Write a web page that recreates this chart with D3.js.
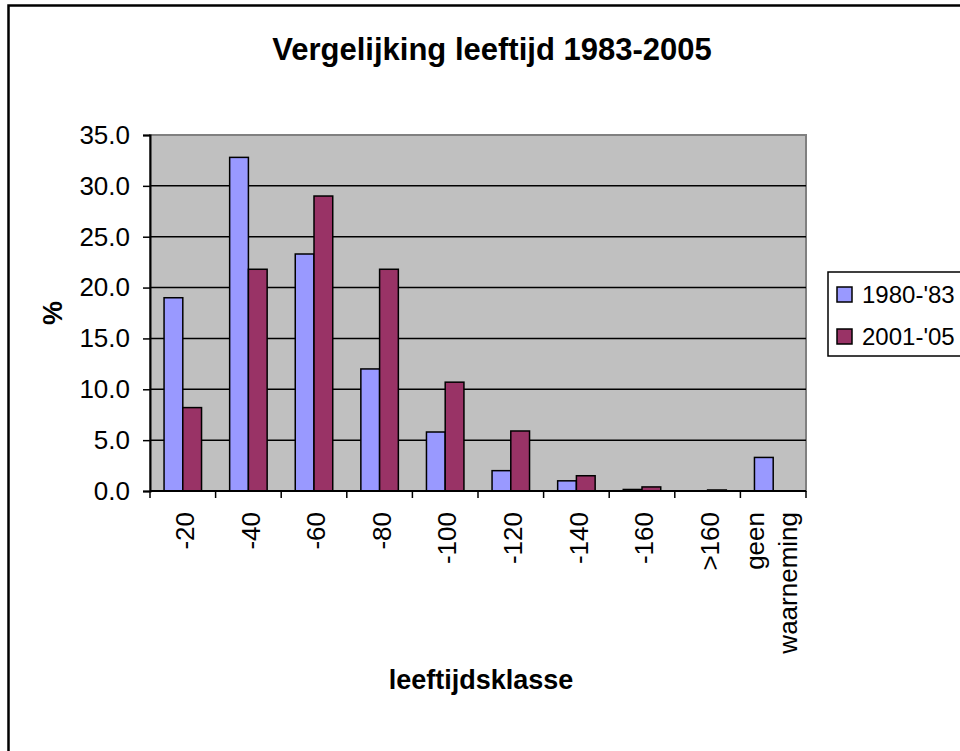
<!DOCTYPE html>
<html>
<head>
<meta charset="utf-8">
<script src="https://cdn.jsdelivr.net/npm/d3@7"></script>
<style>
  body { margin: 0; background: #fff; }
  text { font-family: Arial, "Liberation Sans", sans-serif; fill: #000; }
</style>
</head>
<body>
<div id="chart"></div>
<script>
// data
var categories = ["-20", "-40", "-60", "-80", "-100", "-120", "-140", "-160", ">160", "geen waarneming"];
var seriesNames = ["1980-'83", "2001-'05"];
var values1980 = [19.0, 32.8, 23.3, 12.0, 5.8, 2.0, 1.0, 0.15, 0.0, 3.3];
var values2001 = [8.2, 21.8, 29.0, 21.8, 10.7, 5.9, 1.5, 0.4, 0.1, 0.0];
var yTicks = [0, 5, 10, 15, 20, 25, 30, 35];
var colors = ["#9999FF", "#993366"];

function drawChart() {
    var width = 960, height = 751;
    var plot = {left: 150, top: 135, right: 806, bottom: 491};

    var svg = d3.select("#chart").append("svg")
        .attr("width", width)
        .attr("height", height);

    // chart frame (right/bottom run off the picture)
    svg.append("rect")
        .attr("x", 8.5).attr("y", 5.5)
        .attr("width", 990).attr("height", 800)
        .attr("fill", "#fff")
        .attr("stroke", "#000")
        .attr("stroke-width", 2.5);

    var x = d3.scaleBand()
        .domain(categories)
        .range([plot.left, plot.right]);

    var y = d3.scaleLinear()
        .domain([0, 35])
        .range([plot.bottom, plot.top]);

    // plot area
    svg.append("rect")
        .attr("x", plot.left).attr("y", plot.top)
        .attr("width", plot.right - plot.left)
        .attr("height", plot.bottom - plot.top)
        .attr("fill", "#C0C0C0")
        .attr("stroke", "#808080")
        .attr("stroke-width", 2);

    // gridlines
    svg.append("g")
        .selectAll("line")
        .data(yTicks.filter(function(d) { return d > 0 && d < 35; }))
        .enter().append("line")
        .attr("x1", plot.left).attr("x2", plot.right)
        .attr("y1", function(d) { return y(d); })
        .attr("y2", function(d) { return y(d); })
        .attr("stroke", "#000")
        .attr("stroke-width", 1.5);

    // bars: gap width 150% like the spreadsheet default
    var barW = x.bandwidth() / 3.5;
    var series = [values1980, values2001];
    series.forEach(function(vals, s) {
        svg.append("g")
            .selectAll("rect")
            .data(vals)
            .enter().append("rect")
            .attr("x", function(d, i) { return x(categories[i]) + barW * 0.75 + s * barW; })
            .attr("width", barW)
            .attr("y", function(d) { return y(d); })
            .attr("height", function(d) { return y(0) - y(d); })
            .attr("fill", colors[s])
            .attr("stroke", "#000")
            .attr("stroke-width", 1.5)
            .style("display", function(d) { return d > 0 ? null : "none"; });
    });

    // y axis
    var yAxis = d3.axisLeft(y)
        .tickValues(yTicks)
        .tickFormat(d3.format(".1f"))
        .tickSize(7)
        .tickPadding(13);
    var gy = svg.append("g")
        .attr("transform", "translate(" + plot.left + ",0)")
        .call(yAxis);
    gy.select(".domain").attr("stroke", "#000").attr("stroke-width", 2);
    gy.selectAll(".tick line").attr("stroke", "#000").attr("stroke-width", 1.5);
    gy.selectAll(".tick text")
        .style("font-size", "26px")
        .style("font-family", "Arial, 'Liberation Sans', sans-serif")
        .attr("fill", "#000");

    // x axis: ticks sit on the band edges
    var edges = categories.map(function(c) { return x(c); }).concat([plot.right]);
    var gx = svg.append("g");
    gx.append("line")
        .attr("x1", plot.left).attr("x2", plot.right)
        .attr("y1", plot.bottom).attr("y2", plot.bottom)
        .attr("stroke", "#000").attr("stroke-width", 2);
    gx.selectAll(".xt")
        .data(edges)
        .enter().append("line")
        .attr("class", "xt")
        .attr("x1", function(d) { return d; }).attr("x2", function(d) { return d; })
        .attr("y1", plot.bottom).attr("y2", plot.bottom + 7)
        .attr("stroke", "#000").attr("stroke-width", 1.5);

    var labels = gx.selectAll(".xl")
        .data(categories)
        .enter().append("text")
        .attr("class", "xl")
        .attr("transform", function(d) {
            return "translate(" + (x(d) + x.bandwidth() / 2 + 2) + "," + (plot.bottom + 21) + ") rotate(-90)";
        })
        .attr("text-anchor", "end")
        .style("font-size", "26px");
    labels.each(function(d) {
        var t = d3.select(this);
        var words = d === "geen waarneming" ? ["geen", "waarneming"] : [d];
        words.forEach(function(w, i) {
            t.append("tspan")
                .attr("x", 0)
                .attr("dy", i === 0 ? (words.length > 1 ? "-0.42em" : "0.35em") : "1.27em")
                .text(w);
        });
    });

    // titles
    svg.append("text")
        .attr("x", 492).attr("y", 60)
        .attr("text-anchor", "middle")
        .style("font-size", "31px")
        .style("font-weight", "bold")
        .text("Vergelijking leeftijd 1983-2005");

    svg.append("text")
        .attr("x", 481).attr("y", 689)
        .attr("text-anchor", "middle")
        .style("font-size", "27px")
        .style("font-weight", "bold")
        .text("leeftijdsklasse");

    svg.append("text")
        .attr("transform", "translate(62,313) rotate(-90)")
        .attr("text-anchor", "middle")
        .style("font-size", "27px")
        .style("font-weight", "bold")
        .text("%");

    // legend
    var legend = svg.append("g");
    legend.append("rect")
        .attr("x", 828).attr("y", 272)
        .attr("width", 200).attr("height", 84)
        .attr("fill", "#fff")
        .attr("stroke", "#000")
        .attr("stroke-width", 1.5);
    var items = legend.selectAll(".li")
        .data(seriesNames)
        .enter().append("g")
        .attr("class", "li")
        .attr("transform", function(d, i) { return "translate(837," + (287 + i * 42) + ")"; });
    items.append("rect")
        .attr("width", 15).attr("height", 15)
        .attr("fill", function(d, i) { return colors[i]; })
        .attr("stroke", "#000")
        .attr("stroke-width", 1.5);
    items.append("text")
        .attr("x", 25).attr("y", 7.5)
        .attr("dy", "0.35em")
        .style("font-size", "24px")
        .text(function(d) { return d; });
}

if (document.readyState === "loading") {
    document.addEventListener("DOMContentLoaded", drawChart);
} else {
    drawChart();
}
</script>
</body>
</html>
